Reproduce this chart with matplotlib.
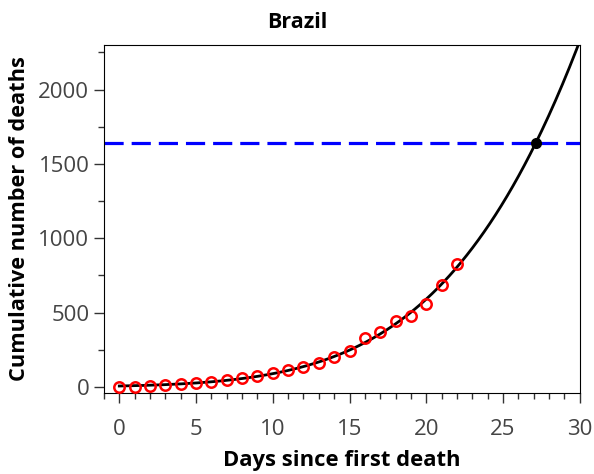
import numpy as np
import matplotlib
matplotlib.use("Agg")
import matplotlib.pyplot as plt
from matplotlib.ticker import MultipleLocator

plt.rcParams['font.family'] = ['Open Sans', 'DejaVu Sans']

# cumulative deaths, by days since first death
days = list(range(23))
deaths = [1, 3, 7, 11, 18, 25, 34, 46, 59, 77, 92, 111, 136, 159,
          201, 240, 328, 368, 446, 480, 559, 687, 826]
threshold = 1640
country = "Brazil"

# Gompertz fit K*exp(-B*exp(-r*x)), K by least squares for each (r, B)
x = np.array(days, dtype=float)
y = np.array(deaths, dtype=float)
best = None
for r in np.linspace(0.01, 0.3, 291):
    for B in np.exp(np.linspace(0, 5, 201)):
        g = np.exp(-B * np.exp(-r * x))
        K = np.dot(g, y) / np.dot(g, g)
        err = np.sum((K * g - y) ** 2)
        if best is None or err < best[0]:
            best = (err, r, B, K)
_, r, B, K = best

xs = np.linspace(0, 30, 400)
ys = K * np.exp(-B * np.exp(-r * xs))
x_hit = -np.log(-np.log(threshold / K) / B) / r

fig, ax = plt.subplots(figsize=(5.94, 4.74), dpi=100)
fig.subplots_adjust(left=0.175, right=0.976, top=0.905, bottom=0.171)

ax.axhline(threshold, color="#0000ff", lw=2.3, dashes=(6, 2.5), zorder=1)
ax.plot(xs, ys, color="black", lw=2, zorder=2)
ax.plot(days, deaths, "o", mfc="none", mec="red", mew=1.8, ms=7.5, zorder=3)
ax.plot([x_hit], [threshold], "o", color="black", ms=7, zorder=4)

ax.set_xlim(-1, 30)
ax.set_ylim(-40, 2300)
ax.xaxis.set_major_locator(MultipleLocator(5))
ax.xaxis.set_minor_locator(MultipleLocator(1))
ax.yaxis.set_major_locator(MultipleLocator(500))
ax.yaxis.set_minor_locator(MultipleLocator(250))
ax.tick_params(which="major", length=7, width=1, labelsize=16,
               labelcolor="#444444", color="#333333")
ax.tick_params(which="minor", length=4, width=1, color="#333333")
ax.tick_params(axis="x", which="major", pad=12)

fig.suptitle(country, x=0.5, y=1 - 22 / 474, va="center",
             fontsize=15.5, fontweight="bold")
ax.set_xlabel("Days since first death", fontsize=15.8, fontweight="bold", labelpad=7)
ax.set_ylabel("Cumulative number of deaths", fontsize=15.7, fontweight="bold", labelpad=6)

fig.savefig("out.png", dpi=100)
